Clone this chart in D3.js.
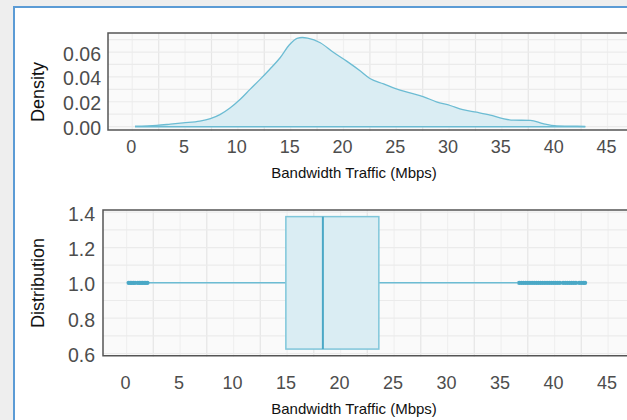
<!DOCTYPE html>
<html>
<head>
<meta charset="utf-8">
<script src="https://cdn.jsdelivr.net/npm/d3@7"></script>
<style>
  body { margin: 0; background: #eeeeee; }
  text { font-family: "Liberation Sans", Arial, sans-serif; }
</style>
</head>
<body>
<svg id="canvas"></svg>
<script>
// ########## Data ##########
var densityX = [0.26, 2.3, 3.6, 4.8, 6.4, 7.4, 8.3, 9.25, 10.2, 11.15, 12.1, 13.0, 14.0, 14.9, 15.6, 16.1, 16.6, 17.8,
    19.0, 20.3, 21.6, 22.5, 23.8, 25.0, 26.3, 27.6, 28.8, 30.1, 31.3, 32.6, 33.9, 35.1, 36.1, 37.7, 38.9, 40.2, 41.2, 42.1, 42.9];
var densityY = [0.0003, 0.001, 0.002, 0.003, 0.0044, 0.0065, 0.0097, 0.015, 0.0218, 0.030, 0.038, 0.046, 0.0554, 0.066,
    0.071, 0.0717, 0.0712, 0.0675, 0.060, 0.0527, 0.0447, 0.0387, 0.0344, 0.0304, 0.0272, 0.024, 0.0199, 0.017, 0.0137,
    0.0116, 0.0093, 0.0065, 0.0052, 0.0051, 0.0024, 0.0006, 0.0004, 0.0003, 0.0001];

var boxStats = [2.0, 14.89, 18.35, 23.58, 36.5];   // whisker low, q1, median, q3, whisker high
var outliers = [0.2, 0.35, 0.5, 0.65, 0.8, 1.05, 1.2, 1.35, 1.5, 1.65, 1.8, 1.95,
    36.7, 36.9, 37.1, 37.3, 37.5, 37.7, 37.9, 38.1, 38.3, 38.5, 38.7, 38.9, 39.1, 39.3, 39.5, 39.7, 39.9, 40.1,
    40.3, 40.5, 40.8, 41.0, 41.2, 41.4, 41.6, 41.8, 42.0, 42.3, 42.5, 42.7, 42.85];

var xTicks = [0, 5, 10, 15, 20, 25, 30, 35, 40, 45];
var densityTicks = [0, 0.02, 0.04, 0.06];
var distTicks = [0.6, 0.8, 1.0, 1.2, 1.4];
var xTitle = "Bandwidth Traffic (Mbps)";

var w = 627, h = 420;
var fillCol = "#daedf3", lineCol = "#6cbcd3", darkCol = "#4aa8c6";

// ########## SVG ##########
var svg = d3.select("#canvas").attr("width", w).attr("height", h);

svg.append("rect").attr("x", 14).attr("y", 7).attr("width", w).attr("height", h)
    .attr("fill", "#ffffff").attr("stroke", "#5b9bd5").attr("stroke-width", 2);

// ########## Helpers ##########
function panel(x0, y0, x1, y1, xs, ys, yGrid) {
    var g = svg.append("g");
    g.append("rect").attr("x", x0).attr("y", y0).attr("width", x1 - x0).attr("height", y1 - y0)
        .attr("fill", "#fafafa");
    var vx = d3.range(0, 48, 2.5);
    g.selectAll(".vg").data(vx).enter().append("line")
        .attr("x1", function (d) { return xs(d); }).attr("x2", function (d) { return xs(d); })
        .attr("y1", y0).attr("y2", y1 + 1)
        .attr("stroke", function (d) { return d % 5 === 0 ? "#f0f0f0" : "#e6e6e6"; })
        .attr("stroke-width", 1.2);
    g.selectAll(".hg").data(yGrid).enter().append("line")
        .attr("x1", x0).attr("x2", x1)
        .attr("y1", function (d) { return ys(d); }).attr("y2", function (d) { return ys(d); })
        .attr("stroke", "#ebebeb").attr("stroke-width", 1.2);
    return g;
}

function frame(x0, y0, x1, y1) {
    svg.append("path")
        .attr("d", "M" + x1 + "," + y0 + "H" + x0 + "V" + y1 + "H" + x1)
        .attr("fill", "none").attr("stroke", "#555555").attr("stroke-width", 1.5);
}

function axes(xs, ys, yTicks, fmt, tickY, labelRight, titleY, yTitle, yTitleY) {
    svg.selectAll(null).data(xTicks).enter().append("text")
        .attr("x", function (d) { return xs(d) - 1; }).attr("y", tickY)
        .attr("text-anchor", "middle").attr("font-size", 18).attr("fill", "#4d4d4d")
        .text(function (d) { return d; });
    svg.selectAll(null).data(yTicks).enter().append("text")
        .attr("x", labelRight).attr("y", function (d) { return ys(d) + 8.5; })
        .attr("text-anchor", "end").attr("font-size", 19.5).attr("fill", "#4d4d4d")
        .text(fmt);
    svg.append("text").attr("x", 354).attr("y", titleY).attr("text-anchor", "middle")
        .attr("font-size", 15).attr("fill", "#111").text(xTitle);
    svg.append("text").attr("transform", "translate(44," + yTitleY + ") rotate(-90)")
        .attr("text-anchor", "middle").attr("font-size", 18).attr("fill", "#111").text(yTitle);
}

// ########## Density panel ##########
var x1 = d3.scaleLinear().domain([-2.3, 48]).range([108, 108 + 50.3 * 10.56]);
var y1 = d3.scaleLinear().domain([-0.0027, 0.0753]).range([130, 33]);

panel(108, 33, w, 130, x1, y1, d3.range(0, 0.075, 0.01));

var pts = densityX.map(function (d, i) { return [d, densityY[i]]; });
var area = d3.area().curve(d3.curveMonotoneX)
    .x(function (d) { return x1(d[0]); }).y0(y1(0)).y1(function (d) { return y1(d[1]); });
var line = d3.line().curve(d3.curveMonotoneX)
    .x(function (d) { return x1(d[0]); }).y(function (d) { return y1(d[1]); });

svg.append("path").datum(pts).attr("d", area).attr("fill", fillCol);
svg.append("path").datum(pts).attr("d", line).attr("fill", "none")
    .attr("stroke", lineCol).attr("stroke-width", 1.3);
svg.append("line").attr("x1", x1(densityX[0])).attr("x2", x1(densityX[densityX.length - 1]))
    .attr("y1", y1(0)).attr("y2", y1(0)).attr("stroke", lineCol).attr("stroke-width", 1.5);

frame(108, 33, w, 130);
axes(x1, y1, densityTicks, function (d) { return d3.format(".2f")(d); }, 153, 101, 178, "Density", 92);

// ########## Box panel ##########
var x2 = d3.scaleLinear().domain([-2.2, 48]).range([103, 103 + 50.2 * 10.70]);
var y2 = d3.scaleLinear().domain([0.5875, 1.4125]).range([355.7, 210]);

panel(103, 210, w, 355.7, x2, y2, d3.range(0.6, 1.45, 0.1));

svg.append("line").attr("x1", x2(boxStats[0])).attr("x2", x2(boxStats[1]))
    .attr("y1", y2(1)).attr("y2", y2(1)).attr("stroke", lineCol).attr("stroke-width", 1.5);
svg.append("line").attr("x1", x2(boxStats[3])).attr("x2", x2(boxStats[4]))
    .attr("y1", y2(1)).attr("y2", y2(1)).attr("stroke", lineCol).attr("stroke-width", 1.5);
svg.append("rect").attr("x", x2(boxStats[1])).attr("y", y2(1.375))
    .attr("width", x2(boxStats[3]) - x2(boxStats[1])).attr("height", y2(0.625) - y2(1.375))
    .attr("fill", fillCol).attr("stroke", "#7fc6da").attr("stroke-width", 1.5);
svg.append("line").attr("x1", x2(boxStats[2])).attr("x2", x2(boxStats[2]))
    .attr("y1", y2(1.375)).attr("y2", y2(0.625)).attr("stroke", darkCol).attr("stroke-width", 2);
svg.selectAll(".out").data(outliers).enter().append("circle")
    .attr("cx", function (d) { return x2(d); }).attr("cy", y2(1)).attr("r", 2.2)
    .attr("fill", darkCol);

frame(103, 210, w, 355.7);
axes(x2, y2, distTicks, function (d) { return d3.format(".1f")(d); }, 389, 95, 414, "Distribution", 283);
</script>
</body>
</html>
